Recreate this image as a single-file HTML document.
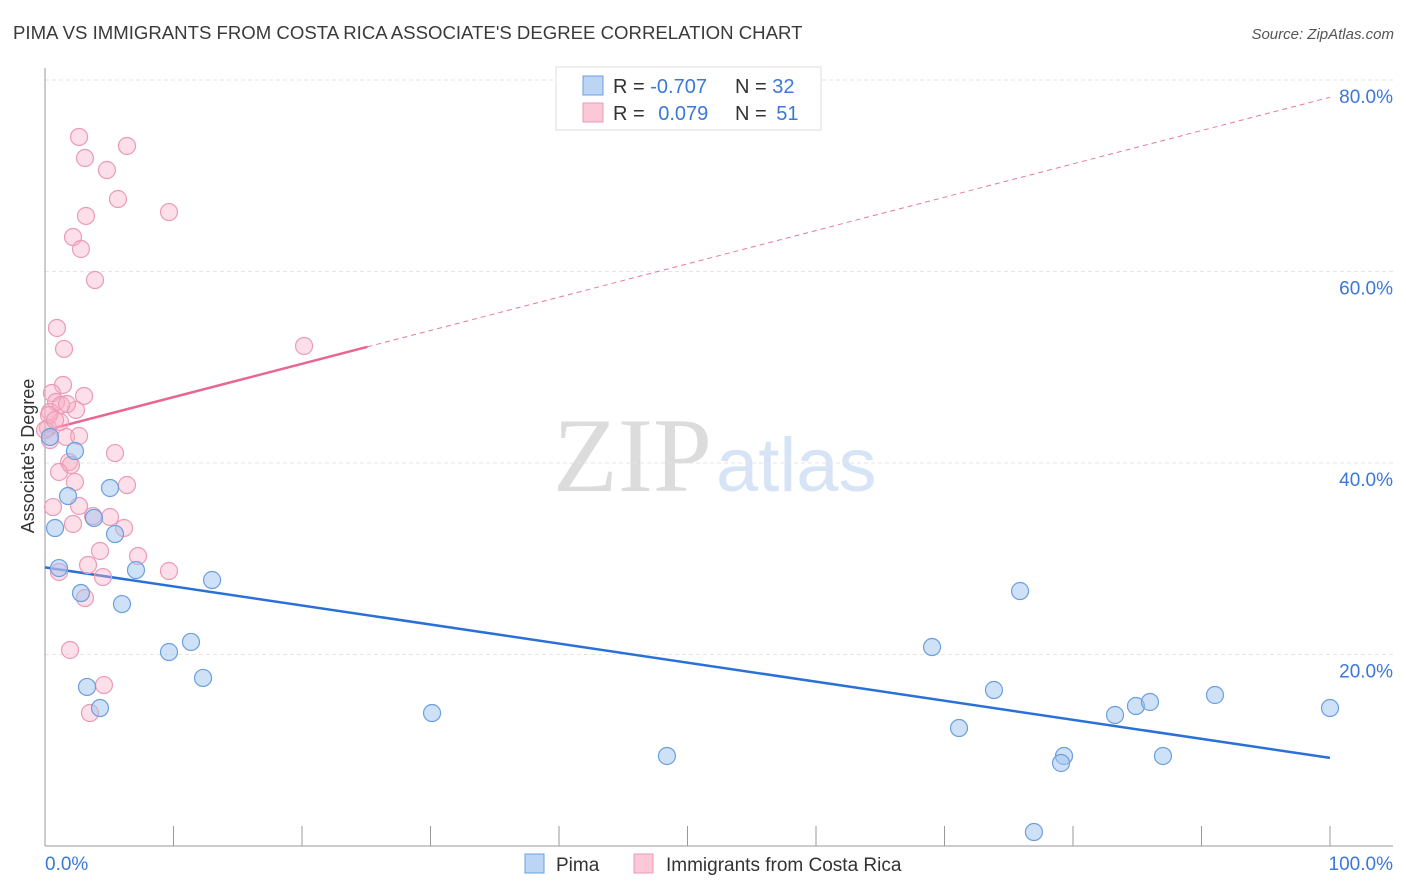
<!DOCTYPE html>
<html><head><meta charset="utf-8">
<style>
body{margin:0;background:#fff;font-family:"Liberation Sans",sans-serif;}
svg{display:block}
</style></head>
<body>
<svg id="chart" width="1406" height="892" viewBox="0 0 1406 892" xmlns="http://www.w3.org/2000/svg">
<text x="13" y="39" font-size="18.6" fill="#3a3a3a" font-family="Liberation Sans, sans-serif">PIMA VS IMMIGRANTS FROM COSTA RICA ASSOCIATE'S DEGREE CORRELATION CHART</text>
<text x="1394" y="39" font-size="15" fill="#555" font-style="italic" text-anchor="end">Source: ZipAtlas.com</text>
<g>
<text x="553" y="491" font-size="106" fill="#dcdcdc" font-family="Liberation Serif, serif">ZIP</text>
<text x="716" y="491" font-size="76" fill="#d6e4f6" font-family="Liberation Sans, sans-serif">atlas</text>
</g>
<g id="grid"></g>
<g id="axes"></g>
<g id="trend"></g>
<g id="pts"></g>
<text transform="translate(34,456) rotate(-90)" font-size="18" fill="#333" text-anchor="middle">Associate's Degree</text>
<g>
<rect x="556" y="67" width="265" height="63" fill="#fff" stroke="#ddd"/>
<rect x="583" y="76" width="20" height="19" fill="#bcd5f5" stroke="#6a9fe0"/>
<rect x="583" y="103" width="20" height="19" fill="#fbc8d8" stroke="#e89ab4"/>
<text x="613" y="93" font-size="20" fill="#333">R = <tspan fill="#3b78d8">-0.707</tspan></text>
<text x="735" y="93" font-size="20" fill="#333">N = <tspan fill="#3b78d8">32</tspan></text>
<text x="613" y="120" font-size="20" fill="#333">R = <tspan fill="#3b78d8" dx="8">0.079</tspan></text>
<text x="735" y="120" font-size="20" fill="#333">N = <tspan fill="#3b78d8" dx="4">51</tspan></text>
</g>
<g>
<rect x="525" y="854" width="19" height="19" fill="#bcd5f5" stroke="#6a9fe0"/>
<text x="556" y="871" font-size="19" fill="#333">Pima</text>
<rect x="634" y="854" width="19" height="19" fill="#fbc8d8" stroke="#e89ab4"/>
<text x="666" y="871" font-size="19" fill="#333">Immigrants from Costa Rica</text>
</g>
</svg>
<script>
const yTicks=[20,40,60,80];
const yTickLabels=["20.0%","40.0%","60.0%","80.0%"];
const xTickLabels=["0.0%","100.0%"];
const pimaX=[2.33,5.06,1.79,0.78,3.81,5.45,1.09,7.08,13.0,2.80,5.99,11.36,9.65,12.30,3.27,4.28,30.12,48.40,69.03,75.88,73.85,71.13,79.30,79.07,83.27,84.90,85.99,87.00,91.05,100.0,76.96,0.39];
const pimaY=[41.25,37.39,36.55,33.21,34.26,32.58,29.03,28.82,27.78,26.42,25.27,21.31,20.26,17.55,16.61,14.41,13.89,9.40,20.78,26.63,16.29,12.32,9.40,8.67,13.68,14.62,15.04,9.40,15.77,14.41,1.46,42.72];
const crX=[2.65,6.38,3.11,4.82,5.68,9.65,3.19,2.18,2.80,3.89,0.93,1.48,20.16,1.40,0.54,3.04,0.86,2.41,1.17,0.39,0.23,1.63,2.65,5.45,1.87,2.02,1.09,2.33,6.38,0.62,2.65,3.74,5.06,2.18,6.15,4.28,7.24,3.35,1.09,9.65,4.51,3.11,1.95,4.59,3.50,0.39,1.25,0.31,0.0,1.71,0.78];
const crY=[74.05,73.11,71.85,70.60,67.57,66.21,65.80,63.60,62.35,59.11,54.10,51.91,52.22,48.15,47.31,47.00,46.37,45.54,44.28,45.33,43.66,42.72,42.82,41.04,40.10,39.79,39.06,38.02,37.70,35.40,35.51,34.46,34.36,33.63,33.21,30.81,30.29,29.35,28.62,28.72,28.09,25.90,20.47,16.81,13.89,42.40,46.06,45.01,43.45,46.16,44.49];
const pimaTrend=[29.1,9.2];
const crTrend=[43.4,78.2];
const crSolidEnd=25.1;

const NS="http://www.w3.org/2000/svg";
const X0=45,X1=1330,Y0=846,Y80=80;
const sx=v=>X0+(X1-X0)*v/100;
const sy=v=>Y0-(Y0-Y80)*v/80;
function mk(tag,attrs,parent){const e=document.createElementNS(NS,tag);for(const k in attrs)e.setAttribute(k,attrs[k]);parent.appendChild(e);return e;}
const grid=document.getElementById('grid'),axes=document.getElementById('axes'),trend=document.getElementById('trend'),pts=document.getElementById('pts');
yTicks.forEach((t,i)=>{
  const l=mk('line',{x1:X0,x2:1393,y1:sy(t),y2:sy(t),stroke:'#e6e6e6','stroke-dasharray':'4,3'},grid);
  
  
  const tx=mk('text',{x:1393,y:sy(t)+23,'font-size':19,fill:'#3b78d8','text-anchor':'end'},axes);
  tx.textContent=yTickLabels[i];
  
  
});
const ya=mk('line',{x1:X0,x2:X0,y1:68,y2:Y0,stroke:'#999'},axes);


const xa=mk('line',{x1:X0,x2:1393,y1:Y0,y2:Y0,stroke:'#999'},axes);


for(let i=0;i<=10;i++){
  const t=mk('line',{x1:sx(i*10),x2:sx(i*10),y1:826,y2:Y0,stroke:'#999'},axes);
  
  
}
const xl0=mk('text',{x:45,y:870,'font-size':19,fill:'#3b78d8'},axes);
xl0.textContent=xTickLabels[0];


const xl1=mk('text',{x:1393,y:870,'font-size':19,fill:'#3b78d8','text-anchor':'end'},axes);
xl1.textContent=xTickLabels[1];


const lin=(tr,x)=>tr[0]+(tr[1]-tr[0])*x/100;
const cd=mk('line',{x1:sx(crSolidEnd),y1:sy(lin(crTrend,crSolidEnd)),x2:sx(100),y2:sy(lin(crTrend,100)),stroke:'#e87a9c','stroke-width':1,'stroke-dasharray':'5,4'},trend);


for(let i=0;i<crX.length;i++){
  const c=mk('circle',{cx:sx(crX[i]),cy:sy(crY[i]),r:8.5,fill:'rgba(248,175,198,0.4)',stroke:'#eb9bb6','stroke-width':1.2},pts);
  
  
}
for(let i=0;i<pimaX.length;i++){
  const c=mk('circle',{cx:sx(pimaX[i]),cy:sy(pimaY[i]),r:8.5,fill:'rgba(160,196,240,0.5)',stroke:'#6a9fe0','stroke-width':1.2},pts);
  
  
}
const cs=mk('line',{x1:sx(0),y1:sy(lin(crTrend,0)),x2:sx(crSolidEnd),y2:sy(lin(crTrend,crSolidEnd)),stroke:'#e8668f','stroke-width':2.5},trend);


const pl=mk('line',{x1:sx(0),y1:sy(lin(pimaTrend,0)),x2:sx(100),y2:sy(lin(pimaTrend,100)),stroke:'#2a70d6','stroke-width':2.5},trend);


</script>
</body></html>
